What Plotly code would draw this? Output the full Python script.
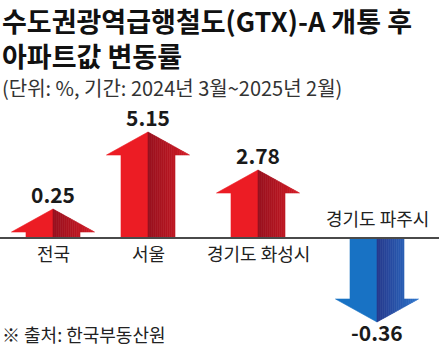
import plotly.graph_objects as go

# ---- data ----
categories = ["전국", "서울", "경기도 화성시", "경기도 파주시"]
values = [0.25, 5.15, 2.78, -0.36]
# drawn arrow lengths (the graphic is stylised, not to scale)
arrow_len = [29, 106, 68, -84]

title_lines = ["수도권광역급행철도(GTX)-A 개통 후", "아파트값 변동률"]
subtitle = "(단위: %, 기간: 2024년 3월~2025년 2월)"
source = "※ 출처: 한국부동산원"

# ---- layout constants ----
W, H = 439, 348
BASE = 238                      # pixel row of the baseline
x_centers = [53, 148, 258, 377]
SHAFT_HW = 27
HEAD_HW = 41.5
HEAD_H = 23
FONT = "Noto Sans CJK KR"

RED_SOLID = (236, 28, 36)
RED_DARK = (150, 16, 30)
RED_EDGE = (212, 28, 38)
BLUE_SOLID = (24, 114, 196)
BLUE_DARK = (38, 56, 140)
BLUE_EDGE = (44, 116, 204)


def rgb(c):
    return "rgb(%d,%d,%d)" % tuple(int(round(v)) for v in c)


def mix(a, b, t):
    return tuple(a[i] + (b[i] - a[i]) * t for i in range(3))


fig = go.Figure()


def add_poly(xs, ys, color):
    fig.add_trace(go.Scatter(
        x=xs + [xs[0]], y=ys + [ys[0]], mode="lines", fill="toself",
        fillcolor=color, line=dict(color=color, width=0.6),
        hoverinfo="skip", showlegend=False))


for c, L, v in zip(x_centers, arrow_len, values):
    s = 1 if L >= 0 else -1
    a = abs(L)
    up = v >= 0
    solid, dark, edge = (RED_SOLID, RED_DARK, RED_EDGE) if up else (BLUE_SOLID, BLUE_DARK, BLUE_EDGE)
    hb = a - HEAD_H
    # left (lit) half
    add_poly([c, c - SHAFT_HW, c - SHAFT_HW, c - HEAD_HW, c],
             [0, 0, s * hb, s * hb, s * a], rgb(solid))
    # right (shaded) half as gradient strips
    n1, n2 = 14, 7
    xs_b = [c + SHAFT_HW * i / n1 for i in range(n1 + 1)] + \
           [c + SHAFT_HW + (HEAD_HW - SHAFT_HW) * i / n2 for i in range(1, n2 + 1)]

    def top(x):
        return a - (x - c) * HEAD_H / HEAD_HW

    for i in range(len(xs_b) - 1):
        x0, x1 = xs_b[i], xs_b[i + 1]
        bot = 0 if x1 <= c + SHAFT_HW + 1e-9 else hb
        t = ((x0 + x1) / 2 - c) / HEAD_HW
        col = rgb(mix(dark, edge, t))
        add_poly([x0, x1, x1, x0],
                 [s * bot, s * bot, s * top(x1), s * top(x0)], col)

# baseline
fig.add_shape(type="line", x0=0, x1=W, y0=0, y1=0, xref="x", yref="y",
              line=dict(color="#4a4a4a", width=2), layer="above")

# value labels and category labels
for c, L, v, cat in zip(x_centers, arrow_len, values, categories):
    label = ("%.2f" % v)
    if v >= 0:
        vy = L + 15
        cy = -15
    else:
        vy = L - 10
        cy = 20
    fig.add_annotation(x=c, y=vy, xref="x", yref="y", text="<b>%s</b>" % label,
                       showarrow=False, xanchor="center", yanchor="middle",
                       font=dict(family=FONT, size=21, color="#1a1a1a"))
    fig.add_annotation(x=c, y=cy, xref="x", yref="y", text=cat,
                       showarrow=False, xanchor="center", yanchor="middle",
                       font=dict(family=FONT, size=18, color="#222222"))


def text_at(txt, px, py, size, bold=False, color="#111111", yanchor="middle"):
    fig.add_annotation(x=px / W, y=1 - py / H, xref="paper", yref="paper",
                       text=("<b>%s</b>" % txt) if bold else txt, showarrow=False,
                       xanchor="left", yanchor=yanchor, align="left", borderpad=0,
                       font=dict(family=FONT, size=size, color=color))


text_at("<br>".join(title_lines), 1, 0, 27, bold=True, yanchor="top")
text_at(subtitle, 1, 87, 20, color="#333333")
text_at(source, 1, 334, 18, color="#222222")

fig.update_layout(
    width=W, height=H, autosize=False,
    margin=dict(l=0, r=0, t=0, b=0, pad=0),
    paper_bgcolor="white", plot_bgcolor="white",
    xaxis=dict(range=[0, W], visible=False, fixedrange=True),
    yaxis=dict(range=[BASE - H, BASE], visible=False, fixedrange=True),
    showlegend=False,
)

fig.write_html("out.html", config={"displayModeBar": False})
